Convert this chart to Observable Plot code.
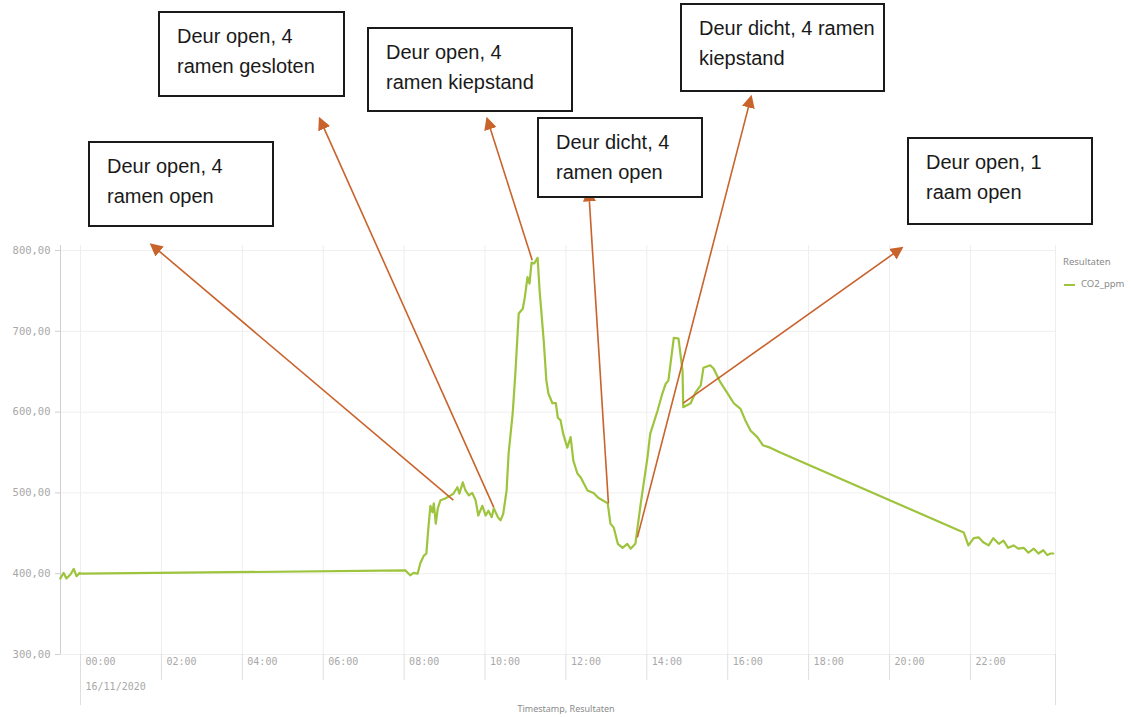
<!DOCTYPE html>
<html><head><meta charset="utf-8">
<script src="https://cdn.jsdelivr.net/npm/d3@7"></script>
<script src="https://cdn.jsdelivr.net/npm/@observablehq/plot@0.6"></script>
<style>
body{margin:0;background:#fff;}
#wrap{position:relative;width:1131px;height:717px;overflow:hidden;font-family:"Liberation Sans",Arial,sans-serif;}
.box{position:absolute;box-sizing:border-box;border:2px solid #1a1a1a;background:#fff;font-size:20px;line-height:30px;color:#1a1a1a;padding:8px 0 0 17px;white-space:nowrap;}
.small{position:absolute;font-family:"Noto Sans",sans-serif;font-size:9.5px;color:#8a8a8a;white-space:nowrap;}
.leg{position:absolute;width:11px;height:2px;background:#9dc43c;}
</style></head><body><div id="wrap"></div>
<script>
// CO2 series: minutes after 16/11/2020 00:00 and ppm values
const minutes = [-30,-25,-21,-15,-10,-6,-1,0,482,489,494,500,504,509,513,516,519,522,524,527,530,534,541,549,553,559,562,567,571,576,581,586,590,596,601,605,610,613,619,623,627,632,635,641,645,650,656,659,663,666,669,673,678,681,687,691,694,700,705,708,712,716,722,727,731,737,742,752,761,768,782,786,791,797,804,811,816,823,831,841,845,856,863,868,872,880,887,893,894,905,912,920,924,934,939,949,960,969,979,986,994,1004,1012,1023,1038,1310,1317,1325,1332,1339,1347,1354,1362,1369,1376,1384,1391,1399,1406,1414,1421,1428,1434,1439,1443];
const co2 = [394,401,394,399,406,397,401,400,404,398,401,400,413,422,425,457,484,476,487,462,481,491,493,497,499,507,499,513,503,497,500,491,472,484,472,478,470,481,470,466,474,503,549,598,648,722,728,742,767,759,785,784,791,750,689,639,623,611,611,593,590,573,556,569,540,524,519,503,500,494,487,462,457,437,432,437,431,437,487,544,573,602,623,635,639,692,691,651,606,611,624,633,655,658,654,637,623,611,604,590,577,569,559,556,550,451,435,444,445,439,435,444,437,441,432,435,431,432,426,431,425,429,423,425,425];

const xTickHours = [0,2,4,6,8,10,12,14,16,18,20,22];
const yTicks = [300,400,500,600,700,800];
const dateLabel = "16/11/2020";
const seriesName = "CO2_ppm";
const legendTitle = "Resultaten";
const xTitle = "Timestamp, Resultaten";

// annotations
const noteLine1 = ["Deur open, 4","Deur open, 4","Deur open, 4","Deur dicht, 4","Deur dicht, 4 ramen","Deur open, 1"];
const noteLine2 = ["ramen open","ramen gesloten","ramen kiepstand","ramen open","kiepstand","raam open"];
const arrowFromMin = [553,613,670,783,826,894];
const arrowFromPpm = [491,482,788,487,445,611];
const arrowToMin = [107,356,604,754,994,1216];
const arrowToPpm = [806,961,961,872,988,802];

// layout of the note boxes (page pixels)
const boxLayout = [[88,141,186,86],[158,11,187,86],[367,27,206,85],[537,117,166,81],[680,3,205,89],[907,137,186,88]];

const day0 = Date.UTC(2020,10,16);
const toDate = m => new Date(day0 + m*60000);
const data = minutes.map((m,i) => ({t: toDate(m), v: co2[i]}));
const xTicks = xTickHours.map(h => toDate(h*60));
const xStart = toDate(-29.7), xEnd = toDate(1446.2);
const arrows = arrowFromMin.map((m,i) => ({x1: toDate(m), y1: arrowFromPpm[i], x2: toDate(arrowToMin[i]), y2: arrowToPpm[i]}));

const mono = "DejaVu Sans Mono, monospace";
const fmt = d3.utcFormat("%H:%M");
const arrowColor = "#c9632c";

const chart = Plot.plot({
  width: 1131, height: 717,
  marginTop: 245, marginBottom: 63, marginLeft: 60, marginRight: 76,
  x: {type: "utc", domain: [xStart, xEnd]},
  y: {domain: [300, 806.2]},
  style: {background: "#fff", overflow: "visible"},
  marks: [
    Plot.gridX(xTicks, {stroke: "#eeeeee", strokeOpacity: 1}),
    Plot.gridY(yTicks, {stroke: "#efefef", strokeOpacity: 1}),
    Plot.ruleX([xEnd], {stroke: "#eeeeee"}),
    Plot.ruleX([xStart], {stroke: "#cfcfcf"}),
    Plot.axisY(yTicks, {tickSize: 5, tickPadding: 5, tickFormat: d => d + ",00", stroke: "#cfcfcf", fill: "#a8a8a8", fontFamily: mono, fontSize: 10.5, label: null}),
    Plot.axisX(xTicks, {tickSize: 26, tickFormat: () => "", stroke: "#dedede", label: null}),
    Plot.axisX([xTicks[0], xEnd], {tickSize: 51, tickFormat: () => "", stroke: "#dedede", label: null}),
    Plot.text(xTicks, {x: d => d, text: d => fmt(d), frameAnchor: "bottom", dy: 10, dx: 5, textAnchor: "start", fill: "#a8a8a8", fontFamily: mono, fontSize: 10}),
    Plot.text([xTicks[0]], {x: d => d, text: () => dateLabel, frameAnchor: "bottom", dy: 35, dx: 5, textAnchor: "start", fill: "#a8a8a8", fontFamily: mono, fontSize: 10}),
    Plot.line(data, {x: "t", y: "v", stroke: "#9dc43c", strokeWidth: 2.2, strokeLinejoin: "round"}),
    Plot.link(arrows, {x1: "x1", y1: "y1", x2: "x2", y2: "y2", stroke: arrowColor, strokeWidth: 1.6})
  ]
});

// filled triangular arrow heads
const svg = d3.select(chart);
svg.insert("defs", ":first-child").append("marker")
  .attr("id", "ahead").attr("viewBox", "0 0 10 10").attr("refX", 7).attr("refY", 5)
  .attr("markerWidth", 13).attr("markerHeight", 13).attr("markerUnits", "userSpaceOnUse").attr("orient", "auto")
  .append("path").attr("d", "M0,0L10,5L0,10Z").attr("fill", arrowColor);
svg.selectAll('g[aria-label="link"] path').attr("marker-end", "url(#ahead)");

const wrap = document.getElementById("wrap");
wrap.appendChild(chart);
chart.style.position = "absolute"; chart.style.left = "0"; chart.style.top = "0";

noteLine1.forEach((l1, i) => {
  const [x, y, w, h] = boxLayout[i];
  const d = document.createElement("div");
  d.className = "box";
  Object.assign(d.style, {left: x + "px", top: y + "px", width: w + "px", height: h + "px"});
  d.innerHTML = l1 + "<br>" + noteLine2[i];
  wrap.appendChild(d);
});

function small(txt, x, y, extra) {
  const d = document.createElement("div");
  d.className = "small"; d.textContent = txt;
  Object.assign(d.style, {left: x + "px", top: y + "px"}, extra || {});
  wrap.appendChild(d); return d;
}
small(legendTitle, 1063, 255);
small(seriesName, 1081, 277);
const lg = document.createElement("div"); lg.className = "leg";
Object.assign(lg.style, {left: "1064px", top: "284px"}); wrap.appendChild(lg);
small(xTitle, 566, 702, {transform: "translateX(-50%)", fontSize: "9px"});
</script>
</body></html>
